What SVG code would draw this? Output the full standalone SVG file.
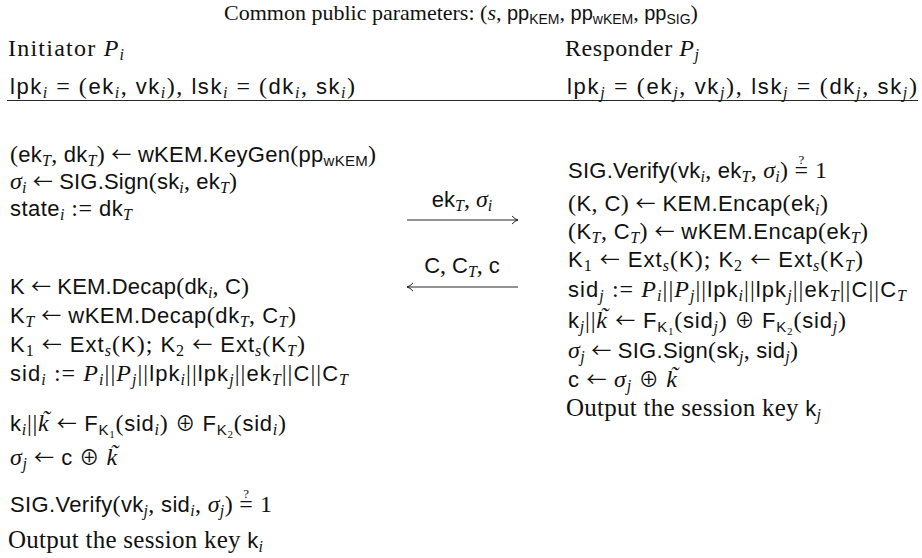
<svg xmlns="http://www.w3.org/2000/svg" width="922" height="558" viewBox="0 0 922 558">
<defs>
<style>
text{font-family:"Liberation Serif","DejaVu Serif",serif;font-size:24px;fill:#111}
.f{font-family:"Liberation Sans","DejaVu Sans",sans-serif;font-size:22px}
.i{font-style:italic}
.sb{font-size:16px;baseline-shift:-4px}
.fb{font-family:"Liberation Sans","DejaVu Sans",sans-serif;font-size:15px;baseline-shift:-4px}
.bb{font-size:11px;baseline-shift:-7px}
.q{font-size:13px;baseline-shift:14px}
.tl{font-style:italic;baseline-shift:4px}
.ar,.op{font-family:"Noto Sans CJK SC","DejaVu Sans",sans-serif;font-size:20px}
.ln{stroke:#111;stroke-width:0.9;fill:none}
text.out{font-size:25px}
#header text.t{font-size:22px}
#header text.t .f{font-size:20px}
#header text.t .fb{font-size:14px}
</style>
<marker id="ah" markerWidth="10" markerHeight="10" refX="9" refY="5" orient="auto" markerUnits="userSpaceOnUse"><path d="M3,1 Q6,4.3 9,5 Q6,5.7 3,9" fill="none" stroke="#111" stroke-width="0.9"/></marker>
</defs>
<rect width="922" height="558" fill="#fff"/>
<g id="header">
<text class="t" x="461" y="20" text-anchor="middle">Common public parameters: (<tspan class="i">s</tspan>, <tspan class="f">pp</tspan><tspan class="fb">KEM</tspan>, <tspan class="f">pp</tspan><tspan class="fb">wKEM</tspan>, <tspan class="f">pp</tspan><tspan class="fb">SIG</tspan>)</text>
<line class="ln" x1="7" y1="100.5" x2="918" y2="100.5"/>
</g>
<g id="initiator">
<text x="8" y="56" textLength="116">Initiator <tspan class="i">P</tspan><tspan class="i sb">i</tspan></text>
<text x="10" y="94" textLength="345"><tspan class="f">lpk</tspan><tspan class="i sb">i</tspan> = (<tspan class="f">ek</tspan><tspan class="i sb">i</tspan>, <tspan class="f">vk</tspan><tspan class="i sb">i</tspan>), <tspan class="f">lsk</tspan><tspan class="i sb">i</tspan> = (<tspan class="f">dk</tspan><tspan class="i sb">i</tspan>, <tspan class="f">sk</tspan><tspan class="i sb">i</tspan>)</text>
<text x="10" y="162" textLength="366">(<tspan class="f">ek</tspan><tspan class="i sb">T</tspan>, <tspan class="f">dk</tspan><tspan class="i sb">T</tspan>) <tspan class="ar">←</tspan> <tspan class="f">wKEM.KeyGen</tspan>(<tspan class="f">pp</tspan><tspan class="fb">wKEM</tspan>)</text>
<text x="10" y="189" textLength="227"><tspan class="i">σ</tspan><tspan class="i sb">i</tspan> <tspan class="ar">←</tspan> <tspan class="f">SIG.Sign</tspan>(<tspan class="f">sk</tspan><tspan class="i sb">i</tspan>, <tspan class="f">ek</tspan><tspan class="i sb">T</tspan>)</text>
<text x="10" y="216" textLength="122"><tspan class="f">state</tspan><tspan class="i sb">i</tspan> := <tspan class="f">dk</tspan><tspan class="i sb">T</tspan></text>
<text x="10" y="294" textLength="239"><tspan class="f">K</tspan> <tspan class="ar">←</tspan> <tspan class="f">KEM.Decap</tspan>(<tspan class="f">dk</tspan><tspan class="i sb">i</tspan>, <tspan class="f">C</tspan>)</text>
<text x="10" y="323" textLength="286"><tspan class="f">K</tspan><tspan class="i sb">T</tspan> <tspan class="ar">←</tspan> <tspan class="f">wKEM.Decap</tspan>(<tspan class="f">dk</tspan><tspan class="i sb">T</tspan>, <tspan class="f">C</tspan><tspan class="i sb">T</tspan>)</text>
<text x="10" y="352" textLength="295"><tspan class="f">K</tspan><tspan class="sb">1</tspan> <tspan class="ar">←</tspan> <tspan class="f">Ext</tspan><tspan class="i sb">s</tspan>(<tspan class="f">K</tspan>); <tspan class="f">K</tspan><tspan class="sb">2</tspan> <tspan class="ar">←</tspan> <tspan class="f">Ext</tspan><tspan class="i sb">s</tspan>(<tspan class="f">K</tspan><tspan class="i sb">T</tspan>)</text>
<text x="10" y="381" textLength="338"><tspan class="f">sid</tspan><tspan class="i sb">i</tspan> := <tspan class="i">P</tspan><tspan class="i sb">i</tspan>||<tspan class="i">P</tspan><tspan class="i sb">j</tspan>||<tspan class="f">lpk</tspan><tspan class="i sb">i</tspan>||<tspan class="f">lpk</tspan><tspan class="i sb">j</tspan>||<tspan class="f">ek</tspan><tspan class="i sb">T</tspan>||<tspan class="f">C</tspan>||<tspan class="f">C</tspan><tspan class="i sb">T</tspan></text>
<text x="10" y="431" textLength="276"><tspan class="f">k</tspan><tspan class="i sb">i</tspan>||<tspan class="i">k</tspan><tspan class="tl" dx="-7.7">˜</tspan><tspan dx="-0.3"> </tspan><tspan class="ar">←</tspan> <tspan class="f">F</tspan><tspan class="fb">K</tspan><tspan class="bb">1</tspan>(<tspan class="f">sid</tspan><tspan class="i sb">i</tspan>) <tspan class="op">⊕</tspan> <tspan class="f">F</tspan><tspan class="fb">K</tspan><tspan class="bb">2</tspan>(<tspan class="f">sid</tspan><tspan class="i sb">i</tspan>)</text>
<text x="10" y="465" textLength="108"><tspan class="i">σ</tspan><tspan class="i sb">j</tspan> <tspan class="ar">←</tspan> <tspan class="f">c</tspan> <tspan class="op">⊕</tspan> <tspan class="i">k</tspan><tspan class="tl" dx="-7.7">˜</tspan></text>
<text x="10" y="512" textLength="262"><tspan class="f">SIG.Verify</tspan>(<tspan class="f">vk</tspan><tspan class="i sb">j</tspan>, <tspan class="f">sid</tspan><tspan class="i sb">i</tspan>, <tspan class="i">σ</tspan><tspan class="i sb">j</tspan>) =<tspan class="q" dx="-10">?</tspan><tspan dx="4.3"> 1</tspan></text>
<text class="out" x="8" y="548" textLength="255">Output the session key <tspan class="f">k</tspan><tspan class="i sb">i</tspan></text>
</g>
<g id="connectors">
<path class="ln" d="M407,220 H518" marker-end="url(#ah)"/>
<text x="462" y="207" text-anchor="middle"><tspan class="f">ek</tspan><tspan class="i sb">T</tspan>, <tspan class="i">σ</tspan><tspan class="i sb">i</tspan></text>
<path class="ln" d="M518,287 H407" marker-end="url(#ah)"/>
<text x="462" y="273" text-anchor="middle"><tspan class="f">C</tspan>, <tspan class="f">C</tspan><tspan class="i sb">T</tspan>, <tspan class="f">c</tspan></text>
</g>
<g id="responder">
<text x="565" y="56" textLength="134">Responder <tspan class="i">P</tspan><tspan class="i sb">j</tspan></text>
<text x="567" y="94" textLength="350"><tspan class="f">lpk</tspan><tspan class="i sb">j</tspan> = (<tspan class="f">ek</tspan><tspan class="i sb">j</tspan>, <tspan class="f">vk</tspan><tspan class="i sb">j</tspan>), <tspan class="f">lsk</tspan><tspan class="i sb">j</tspan> = (<tspan class="f">dk</tspan><tspan class="i sb">j</tspan>, <tspan class="f">sk</tspan><tspan class="i sb">j</tspan>)</text>
<text x="568" y="178" textLength="259"><tspan class="f">SIG.Verify</tspan>(<tspan class="f">vk</tspan><tspan class="i sb">i</tspan>, <tspan class="f">ek</tspan><tspan class="i sb">T</tspan>, <tspan class="i">σ</tspan><tspan class="i sb">i</tspan>) =<tspan class="q" dx="-10">?</tspan><tspan dx="4.3"> 1</tspan></text>
<text x="568" y="211" textLength="260">(<tspan class="f">K</tspan>, <tspan class="f">C</tspan>) <tspan class="ar">←</tspan> <tspan class="f">KEM.Encap</tspan>(<tspan class="f">ek</tspan><tspan class="i sb">i</tspan>)</text>
<text x="568" y="239" textLength="300">(<tspan class="f">K</tspan><tspan class="i sb">T</tspan>, <tspan class="f">C</tspan><tspan class="i sb">T</tspan>) <tspan class="ar">←</tspan> <tspan class="f">wKEM.Encap</tspan>(<tspan class="f">ek</tspan><tspan class="i sb">T</tspan>)</text>
<text x="568" y="267" textLength="295"><tspan class="f">K</tspan><tspan class="sb">1</tspan> <tspan class="ar">←</tspan> <tspan class="f">Ext</tspan><tspan class="i sb">s</tspan>(<tspan class="f">K</tspan>); <tspan class="f">K</tspan><tspan class="sb">2</tspan> <tspan class="ar">←</tspan> <tspan class="f">Ext</tspan><tspan class="i sb">s</tspan>(<tspan class="f">K</tspan><tspan class="i sb">T</tspan>)</text>
<text x="568" y="297" textLength="338"><tspan class="f">sid</tspan><tspan class="i sb">j</tspan> := <tspan class="i">P</tspan><tspan class="i sb">i</tspan>||<tspan class="i">P</tspan><tspan class="i sb">j</tspan>||<tspan class="f">lpk</tspan><tspan class="i sb">i</tspan>||<tspan class="f">lpk</tspan><tspan class="i sb">j</tspan>||<tspan class="f">ek</tspan><tspan class="i sb">T</tspan>||<tspan class="f">C</tspan>||<tspan class="f">C</tspan><tspan class="i sb">T</tspan></text>
<text x="568" y="328" textLength="278"><tspan class="f">k</tspan><tspan class="i sb">j</tspan>||<tspan class="i">k</tspan><tspan class="tl" dx="-7.7">˜</tspan><tspan dx="-0.3"> </tspan><tspan class="ar">←</tspan> <tspan class="f">F</tspan><tspan class="fb">K</tspan><tspan class="bb">1</tspan>(<tspan class="f">sid</tspan><tspan class="i sb">j</tspan>) <tspan class="op">⊕</tspan> <tspan class="f">F</tspan><tspan class="fb">K</tspan><tspan class="bb">2</tspan>(<tspan class="f">sid</tspan><tspan class="i sb">j</tspan>)</text>
<text x="568" y="358" textLength="230"><tspan class="i">σ</tspan><tspan class="i sb">j</tspan> <tspan class="ar">←</tspan> <tspan class="f">SIG.Sign</tspan>(<tspan class="f">sk</tspan><tspan class="i sb">j</tspan>, <tspan class="f">sid</tspan><tspan class="i sb">j</tspan>)</text>
<text x="568" y="387" textLength="110"><tspan class="f">c</tspan> <tspan class="ar">←</tspan> <tspan class="i">σ</tspan><tspan class="i sb">j</tspan> <tspan class="op">⊕</tspan> <tspan class="i">k</tspan><tspan class="tl" dx="-7.7">˜</tspan></text>
<text class="out" x="566" y="416" textLength="255">Output the session key <tspan class="f">k</tspan><tspan class="i sb">j</tspan></text>
</g>
</svg>
